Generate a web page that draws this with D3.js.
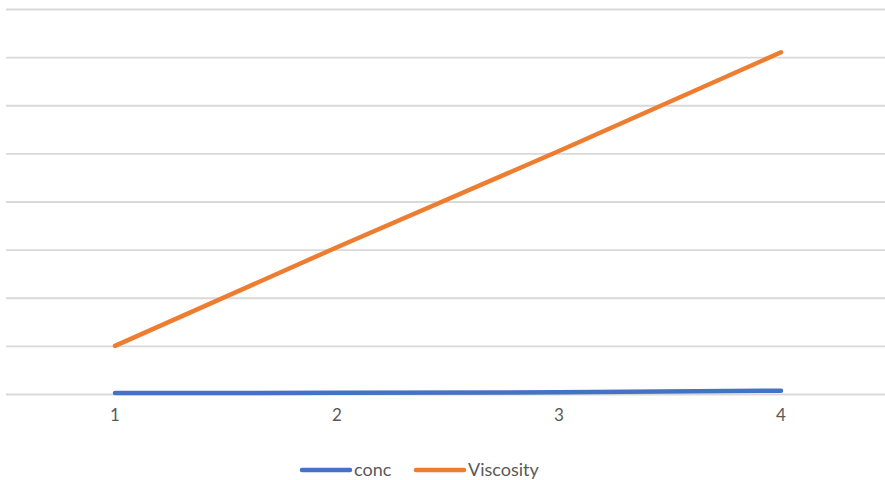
<!DOCTYPE html>
<html>
<head>
<meta charset="utf-8">
<script src="https://cdn.jsdelivr.net/npm/d3@7"></script>
<style>
  html, body { margin: 0; padding: 0; background: #fff; }
  svg { display: block; }
  text { font-family: Lato, "Liberation Sans", sans-serif; }
</style>
</head>
<body>
<svg id="chart" width="885" height="480"></svg>
<script>
// Data
const categories = [1, 2, 3, 4];
const conc = [0.2, 0.25, 0.35, 0.7];
const viscosity = [10, 30.5, 50.5, 71];
const yTicks = [0, 10, 20, 30, 40, 50, 60, 70, 80];
const seriesNames = ["conc", "Viscosity"];
const seriesColors = ["#4472C4", "#ED7D31"];

const svg = d3.select("#chart");
const W = 885, H = 480;
const margin = { left: 4, right: -7, top: 9, bottom: 86 };

const x = d3.scaleBand()
  .domain(categories)
  .range([margin.left, W - margin.right])
  .paddingInner(0).paddingOuter(0);

const y = d3.scaleLinear()
  .domain([0, 80])
  .range([H - margin.bottom, margin.top]);

// Horizontal gridlines
const grid = d3.axisLeft(y)
  .tickValues(yTicks)
  .tickSize(-(W - 6))
  .tickFormat("");
svg.append("g")
  .attr("transform", `translate(6,0)`)
  .call(grid)
  .call(g => g.select(".domain").remove())
  .call(g => g.selectAll("line")
    .attr("stroke", "#d9d9d9")
    .attr("stroke-width", 1.8)
    .attr("x1", 0).attr("x2", W));

// Category axis labels
const xAxis = d3.axisBottom(x).tickSize(0).tickPadding(21);
svg.append("g")
  .attr("transform", `translate(0,${y(0)})`)
  .call(xAxis)
  .call(g => g.select(".domain").remove())
  .call(g => g.selectAll("text")
    .attr("fill", "#595959")
    .attr("dy", "0.35em")
    .style("font-size", "17px")
    .style("font-family", "Lato, 'Liberation Sans', sans-serif"));

// Lines
const cx = d => x(d) + x.bandwidth() / 2;
const line = d3.line()
  .x((d, i) => cx(categories[i]))
  .y(d => y(d));

[conc, viscosity].forEach((vals, i) => {
  svg.append("path")
    .datum(vals)
    .attr("d", line)
    .attr("fill", "none")
    .attr("stroke", seriesColors[i])
    .attr("stroke-width", 4.5)
    .attr("stroke-linecap", "round")
    .attr("stroke-linejoin", "round");
});

// Legend
const legendItems = [
  { name: seriesNames[0], color: seriesColors[0], x: 302 },
  { name: seriesNames[1], color: seriesColors[1], x: 416 }
];
const legend = svg.append("g").attr("transform", "translate(0,470)");
legendItems.forEach(it => {
  legend.append("line")
    .attr("x1", it.x).attr("x2", it.x + 48)
    .attr("y1", 0).attr("y2", 0)
    .attr("stroke", it.color)
    .attr("stroke-width", 4.5)
    .attr("stroke-linecap", "round");
  legend.append("text")
    .attr("x", it.x + 52)
    .attr("y", 0)
    .attr("dy", "0.35em")
    .attr("fill", "#595959")
    .style("font-size", "18px")
    .text(it.name);
});
</script>
</body>
</html>
